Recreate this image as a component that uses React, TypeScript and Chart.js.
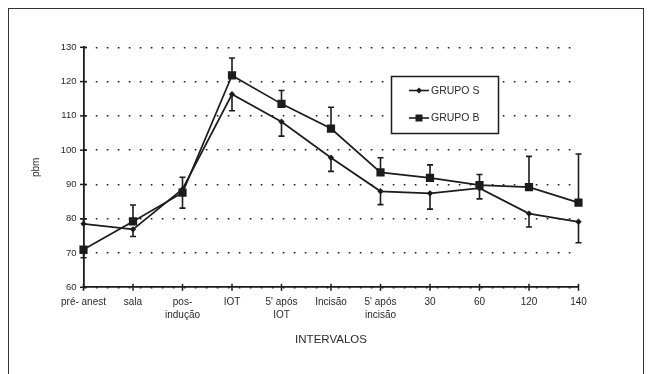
import React, { useEffect, useRef } from "react";
import { Chart, registerables } from "chart.js";

Chart.register(...registerables);

const categories: string[][] = [
  ["pré- anest"],
  ["sala"],
  ["pos-", "indução"],
  ["IOT"],
  ["5' após", "IOT"],
  ["Incisão"],
  ["5' após", "incisão"],
  ["30"],
  ["60"],
  ["120"],
  ["140"],
];

const grupoS = [78.5, 76.9, 88.6, 116.3, 108.3, 97.8, 88.0, 87.4, 88.9, 81.5, 79.1];
const grupoSPlus = [1.5, 0, 3.5, 0, 0, 0, 0, 0, 0, 0, 0];
const grupoSMinus = [0, 2.1, 0, 4.8, 4.2, 4.0, 3.9, 4.6, 3.1, 3.9, 6.1];

const grupoB = [71.0, 79.2, 87.6, 121.8, 113.5, 106.3, 93.5, 91.9, 89.8, 89.2, 84.7];
const grupoBPlus = [0, 4.8, 0, 5.1, 3.9, 6.2, 4.3, 3.8, 3.1, 9.0, 14.2];
const grupoBMinus = [2.4, 0, 4.5, 0, 0, 0, 0, 0, 0, 0, 0];

const seriesNames = ["GRUPO S", "GRUPO B"];
const yTicks = [60, 70, 80, 90, 100, 110, 120, 130];

const FONT = "'Liberation Sans', Arial, sans-serif";
const INK = "#1c1c1c";
const TEXT = "#2a2a2a";

const errorData = [
  { plus: grupoSPlus, minus: grupoSMinus },
  { plus: grupoBPlus, minus: grupoBMinus },
];

const decorPlugin = {
  id: "decor",
  afterDatasetsDraw(chart: any) {
    const ctx = chart.ctx;
    const xs = chart.scales.x;
    const ys = chart.scales.y;
    ctx.save();
    ctx.strokeStyle = INK;
    ctx.lineWidth = 1.6;
    chart.data.datasets.forEach((ds: any, di: number) => {
      const err = errorData[di];
      ds.data.forEach((v: number, i: number) => {
        const x = xs.getPixelForValue(i);
        const y0 = ys.getPixelForValue(v);
        const draw = (val: number) => {
          const y1 = ys.getPixelForValue(val);
          ctx.beginPath();
          ctx.moveTo(x, y0);
          ctx.lineTo(x, y1);
          ctx.moveTo(x - 3, y1);
          ctx.lineTo(x + 3, y1);
          ctx.stroke();
        };
        if (err.plus[i] > 0) draw(v + err.plus[i]);
        if (err.minus[i] > 0) draw(v - err.minus[i]);
      });
    });
    ctx.lineWidth = 1.5;
    yTicks.forEach((t) => {
      const y = ys.getPixelForValue(t);
      ctx.beginPath();
      ctx.moveTo(xs.left - 3.5, y);
      ctx.lineTo(xs.left + 3.5, y);
      ctx.stroke();
    });
    categories.forEach((_, i) => {
      const x = xs.getPixelForValue(i);
      const y = ys.bottom;
      ctx.beginPath();
      ctx.moveTo(x, y - 3.5);
      ctx.lineTo(x, y + 3.5);
      ctx.stroke();
    });
    ctx.restore();
  },
  afterDraw(chart: any) {
    const ctx = chart.ctx;
    ctx.save();
    ctx.strokeStyle = "#333";
    ctx.lineWidth = 1;
    ctx.strokeRect(8.5, 8.5, 635, 420);
    const bx = 391.5, by = 76.5, bw = 107, bh = 57;
    ctx.fillStyle = "#fff";
    ctx.fillRect(bx, by, bw, bh);
    ctx.strokeStyle = INK;
    ctx.lineWidth = 1.5;
    ctx.strokeRect(bx, by, bw, bh);
    const rows = [90.5, 118];
    chart.data.datasets.forEach((ds: any, di: number) => {
      const y = rows[di];
      ctx.strokeStyle = INK;
      ctx.lineWidth = 1.6;
      ctx.beginPath();
      ctx.moveTo(409, y);
      ctx.lineTo(429, y);
      ctx.stroke();
      ctx.fillStyle = INK;
      if (di === 0) {
        ctx.beginPath();
        ctx.moveTo(419, y - 3);
        ctx.lineTo(422, y);
        ctx.lineTo(419, y + 3);
        ctx.lineTo(416, y);
        ctx.closePath();
        ctx.fill();
      } else {
        ctx.fillRect(415.5, y - 3.5, 7, 7);
      }
      ctx.fillStyle = TEXT;
      ctx.font = `10.5px ${FONT}`;
      ctx.textBaseline = "middle";
      ctx.textAlign = "left";
      ctx.fillText(ds.label, 431, y + 0.5);
    });
    ctx.restore();
  },
};

export default function App() {
  const ref = useRef<HTMLCanvasElement | null>(null);
  useEffect(() => {
    document.body.style.margin = "0";
    document.body.style.background = "#fff";
    if (!ref.current) return;
    const chart = new Chart(ref.current, {
      type: "line",
      data: {
        labels: categories,
        datasets: [
          {
            label: seriesNames[0],
            data: grupoS,
            borderColor: INK,
            backgroundColor: INK,
            borderWidth: 1.7,
            pointStyle: "rectRot",
            pointRadius: 3.2,
            pointBorderWidth: 0,
            tension: 0,
          },
          {
            label: seriesNames[1],
            data: grupoB,
            borderColor: INK,
            backgroundColor: INK,
            borderWidth: 1.7,
            pointStyle: "rect",
            pointRadius: 5.8,
            pointBorderWidth: 0,
            tension: 0,
          },
        ],
      },
      options: {
        responsive: false,
        animation: false,
        layout: { padding: { left: 0, top: 47.3, right: 71.5, bottom: 0 } },
        plugins: { legend: { display: false }, tooltip: { enabled: false } },
        scales: {
          x: {
            type: "category",
            offset: false,
            grid: { display: false, drawTicks: false },
            border: { display: true, color: INK, width: 1.8 },
            ticks: {
              color: TEXT,
              padding: 9,
              maxRotation: 0,
              autoSkip: false,
              font: { family: FONT, size: 10, lineHeight: 1.25 },
            },
            title: {
              display: true,
              text: "INTERVALOS",
              color: TEXT,
              font: { family: FONT, size: 11.5, lineHeight: 1.2 },
              padding: { top: 0, bottom: 27 },
            },
            afterFit: (s: any) => {
              s.height = 86.7;
            },
          },
          y: {
            min: 60,
            max: 130,
            ticks: {
              stepSize: 10,
              color: TEXT,
              padding: 7,
              font: { family: FONT, size: 9.5 },
            },
            grid: { drawTicks: false, color: INK, lineWidth: 1.6 },
            border: { display: true, color: INK, width: 1.8, dash: [1.6, 9.4] },
            title: {
              display: true,
              text: "pbm",
              color: TEXT,
              font: { family: FONT, size: 10, lineHeight: 1.2 },
              padding: { top: 30.5, bottom: 0 },
            },
            afterFit: (s: any) => {
              s.width = 83.5;
            },
          },
        },
      },
      plugins: [decorPlugin],
    });
    return () => chart.destroy();
  }, []);
  return <canvas ref={ref} width={650} height={374} style={{ display: "block" }} />;
}
